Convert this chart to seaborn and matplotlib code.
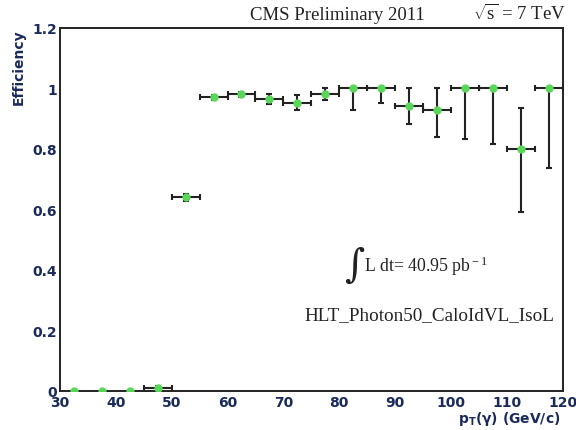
import numpy as np
import pandas as pd
import matplotlib
matplotlib.use("Agg")
import matplotlib.pyplot as plt
import seaborn as sns
from matplotlib.ticker import MultipleLocator

pt = [32.5, 37.5, 42.5, 47.5, 52.5, 57.5, 62.5, 67.5, 72.5, 77.5, 82.5, 87.5, 92.5, 97.5, 102.5, 107.5, 112.5, 117.5]
eff = [0.0, 0.0, 0.0, 0.01, 0.64, 0.971, 0.980, 0.965, 0.952, 0.982, 1.0, 1.0, 0.941, 0.930, 1.0, 1.0, 0.80, 1.0]
err_lo = [0.0, 0.0, 0.0, 0.006, 0.012, 0.008, 0.008, 0.017, 0.025, 0.019, 0.071, 0.049, 0.058, 0.091, 0.167, 0.184, 0.21, 0.264]
err_hi = [0.0, 0.0, 0.0, 0.006, 0.012, 0.008, 0.008, 0.017, 0.025, 0.019, 0.0, 0.0, 0.061, 0.07, 0.0, 0.0, 0.134, 0.0]
half_width = [0.0, 0.0, 0.0, 2.5, 2.5, 2.5, 2.5, 2.5, 2.5, 2.5, 2.5, 2.5, 2.5, 2.5, 2.5, 2.5, 2.5, 2.5]

df = pd.DataFrame({"pt": pt, "eff": eff})

sns.set_style("white")
plt.rcParams["mathtext.fontset"] = "custom"
plt.rcParams["mathtext.rm"] = "Liberation Serif"
plt.rcParams["mathtext.it"] = "Liberation Serif:italic"
plt.rcParams["mathtext.bf"] = "DejaVu Sans:bold"
plt.rcParams["mathtext.sf"] = "DejaVu Sans"

fig = plt.figure(figsize=(5.76, 4.31), dpi=100)
ax = fig.add_axes([0.104, 0.0905, 0.873, 0.8425])

mask = np.array(half_width) > 0
ax.errorbar(np.array(pt)[mask], np.array(eff)[mask],
            xerr=np.array(half_width)[mask],
            yerr=[np.array(err_lo)[mask], np.array(err_hi)[mask]],
            fmt="none", ecolor="#222222", elinewidth=1.5, capsize=2.5, capthick=1.5, zorder=2)
sns.scatterplot(data=df, x="pt", y="eff", ax=ax, color="#5ad65a", s=36,
                edgecolor="#5ad65a", linewidth=0, zorder=3)

ax.set_xlim(30, 120)
ax.set_ylim(0, 1.2)
ax.xaxis.set_major_locator(MultipleLocator(10))
ax.xaxis.set_minor_locator(MultipleLocator(2))
ax.yaxis.set_minor_locator(MultipleLocator(0.05))
ax.set_yticks([0, 0.2, 0.4, 0.6, 0.8, 1.0, 1.2])
ax.set_yticklabels(["0", "0.2", "0.4", "0.6", "0.8", "1", "1.2"])
ax.tick_params(axis="both", which="major", direction="in", length=9, width=1.3,
               top=False, right=False, labelsize=10, labelcolor="#1a2a5a", pad=2)
ax.tick_params(axis="x", which="major", pad=3)
ax.tick_params(axis="both", which="minor", direction="in", length=5, width=1.2,
               top=False, right=False)
for lab in ax.get_xticklabels() + ax.get_yticklabels():
    lab.set_fontweight("bold")
    lab.set_family("DejaVu Sans")
for s in ax.spines.values():
    s.set_visible(True)
    s.set_color("#222222")
    s.set_linewidth(1.4)

ax.set_xlabel("")
ax.set_ylabel("")
fig.text(0.033, 0.933, "Efficiency", rotation=90, ha="center", va="top",
         fontsize=10, fontweight="bold", color="#1a2a5a")
fig.text(0.973, 0.008, r"$\mathbf{p_T}$(γ) (GeV/c)", ha="right", va="bottom",
         fontsize=10, fontweight="bold", color="#1a2a5a")

serif = "Liberation Serif"
fig.text(0.585, 0.945, "CMS Preliminary 2011", ha="center", va="bottom",
         fontsize=13.5, family=serif, color="#222222")
fig.text(0.982, 0.945, r"$\sqrt{\rm s}$ = 7 TeV", ha="right", va="bottom",
         fontsize=13.5, family=serif, color="#222222")
ax.text(0.566, 0.345, "∫", transform=ax.transAxes,
        ha="left", va="center", fontsize=28, family="DejaVu Serif", color="#222222")
ax.text(0.605, 0.345, r"L dt= 40.95 pb$^{\rm -1}$", transform=ax.transAxes,
        ha="left", va="center", fontsize=12.8, family=serif, color="#222222")
ax.text(0.487, 0.21, "HLT_Photon50_CaloIdVL_IsoL", transform=ax.transAxes,
        ha="left", va="center", fontsize=13.8, family=serif, color="#222222")

fig.savefig("out.png", dpi=100)
